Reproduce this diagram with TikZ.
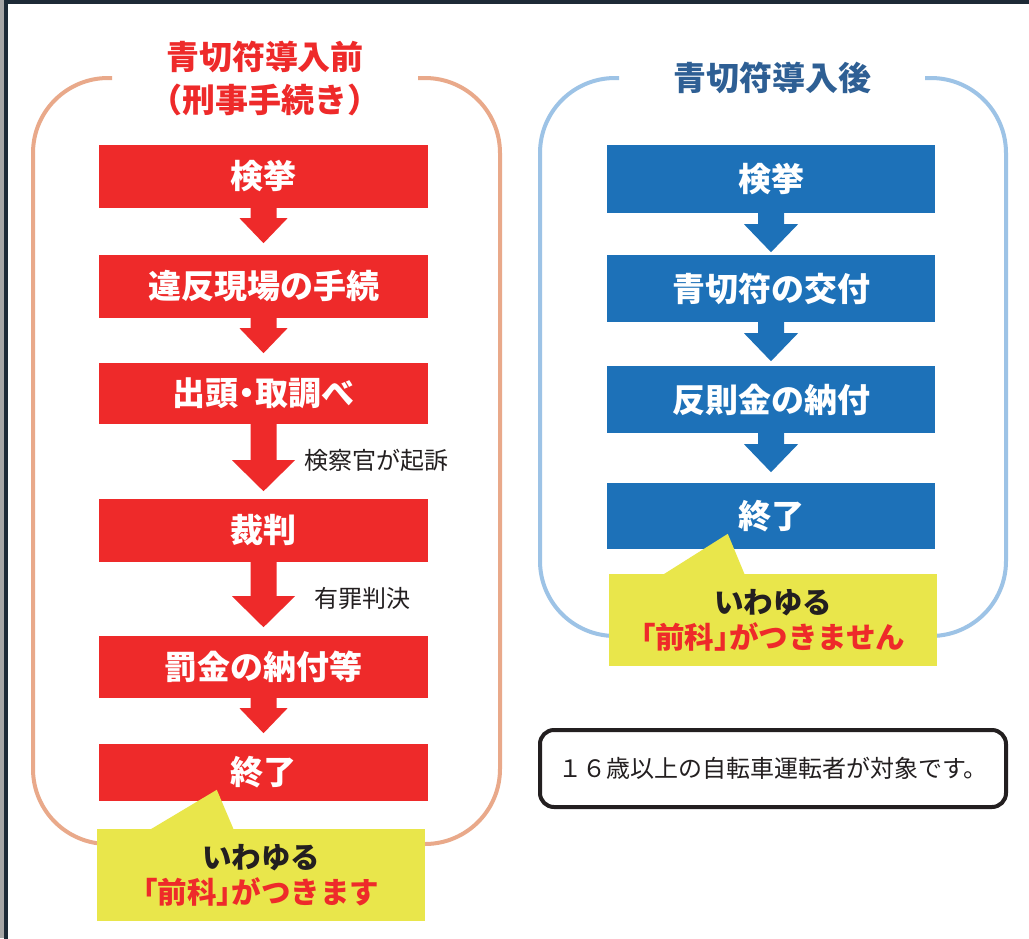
\documentclass[tikz,border=0pt]{standalone}
\usepackage{fontspec}
\setmainfont{Noto Sans CJK JP}
\newfontfamily\paltfont[RawFeature=+palt]{Noto Sans CJK JP}
\usetikzlibrary{calc}
\definecolor{cRed}{HTML}{EE2A2A}
\definecolor{cBlue}{HTML}{1D71B8}
\definecolor{cTitleBlue}{HTML}{2E5F94}
\definecolor{cOrange}{HTML}{E9A98A}
\definecolor{cLightBlue}{HTML}{9DC3E6}
\definecolor{cYellow}{HTML}{E9E64B}
\definecolor{cText}{HTML}{231F20}
\definecolor{cFrame}{HTML}{1D2A36}
\newcommand\blkarrow[5]{%
  \fill[#1] ($(#2.south)+(-13,-1)$) -- ($(#2.south)+(-13,#3)$) -- ($(#2.south)+(-#4,#3)$)
    -- ($(#2.south)+(0,#3+#5)$) -- ($(#2.south)+(#4,#3)$) -- ($(#2.south)+(13,#3)$)
    -- ($(#2.south)+(13,-1)$) -- cycle;}
\newcommand\zenka{{\paltfont\bfseries 「前科」}}
\begin{document}
\begin{tikzpicture}[x=1pt,y=-1pt,
  rbox/.style={fill=cRed,text=white,minimum width=329,minimum height=#1,inner sep=0,
    font=\fontsize{33}{38}\selectfont\bfseries},
  bbox/.style={fill=cBlue,text=white,minimum width=328,minimum height=#1,inner sep=0,
    font=\fontsize{33}{38}\selectfont\bfseries},
  ttl/.style={font=\fontsize{33}{43}\selectfont\bfseries,align=center,inner sep=0},
  lbl/.style={font=\fontsize{24}{28}\selectfont,text=cText,inner sep=0,anchor=west},
  callout/.style={fill=cYellow,minimum width=328,minimum height=92,inner sep=0,align=center,
    font=\fontsize{29.5}{35}\selectfont\bfseries},
  bracket/.style={line width=4,rounded corners=75},
  notebox/.style={draw=cText,line width=4,rounded corners=14,minimum width=466,minimum height=77,
    inner sep=0,font=\fontsize{24}{28}\selectfont,text=cText}]
\useasboundingbox (0,0) rectangle (1029,938);
\fill[white] (0,0) rectangle (1029,938);
% frame
\fill[gray!70] (0,0) rectangle (4,938);
\draw[cFrame,line width=4] (6,2) rectangle (1200,1200);
% bracket outlines
\draw[cOrange,bracket] (112,78) -- (33,78) -- (33,844) -- (500,844) -- (500,78) -- (418,78);
\draw[cLightBlue,bracket] (619,78) -- (540,78) -- (540,636) -- (1006,636) -- (1006,78) -- (925,78);
% titles
\node[ttl,text=cRed] (tl) at (265,78) {青切符導入前\\（刑事手続き）};
\node[ttl,text=cTitleBlue] (tr) at (772,78) {青切符導入後};
% red flow
\node[rbox=63] (r1) at (263.5,176.5) {検挙};
\node[rbox=63] (r2) at (263.5,286.5) {違反現場の手続};
\node[rbox=61] (r3) at (263.5,393.5) {{\paltfont\bfseries 出頭・取調べ}};
\node[rbox=63] (r4) at (263.5,530.5) {裁判};
\node[rbox=62] (r5) at (263.5,667) {罰金の納付等};
\node[rbox=57] (r6) at (263.5,772.5) {終了};
\blkarrow{cRed}{r1}{10}{24}{25}
\blkarrow{cRed}{r2}{10}{24}{25}
\blkarrow{cRed}{r3}{36}{31.5}{31}
\blkarrow{cRed}{r4}{34}{31.5}{31}
\blkarrow{cRed}{r5}{10}{24}{25}
\node[lbl] (l1) at (304,460) {検察官が起訴};
\node[lbl] (l2) at (314,598) {有罪判決};
% blue flow
\node[bbox=68] (b1) at (771,179) {検挙};
\node[bbox=67] (b2) at (771,288.5) {青切符の交付};
\node[bbox=67] (b3) at (771,399.5) {反則金の納付};
\node[bbox=66] (b4) at (771,516) {終了};
\blkarrow{cBlue}{b1}{11}{27}{28}
\blkarrow{cBlue}{b2}{11}{27}{28}
\blkarrow{cBlue}{b3}{11}{27}{28}
% callouts
\node[callout] (cl) at (261,875) {{\color{cText}いわゆる}\\{\color{cRed}\zenka がつきます}};
\fill[cYellow] ($(cl.north west)+(53,1)$) -- ($(cl.north west)+(120,-39)$) -- ($(cl.north west)+(137,1)$) -- cycle;
\node[callout] (cr) at (773,620) {{\color{cText}いわゆる}\\{\color{cRed}\zenka がつきません}};
\fill[cYellow] ($(cr.north west)+(54,1)$) -- ($(cr.north west)+(119,-40)$) -- ($(cr.north west)+(136,1)$) -- cycle;
% note
\node[notebox] (note) at (773,768.5) {１６歳以上の自転車運転者が対象です。};
\end{tikzpicture}
\end{document}
